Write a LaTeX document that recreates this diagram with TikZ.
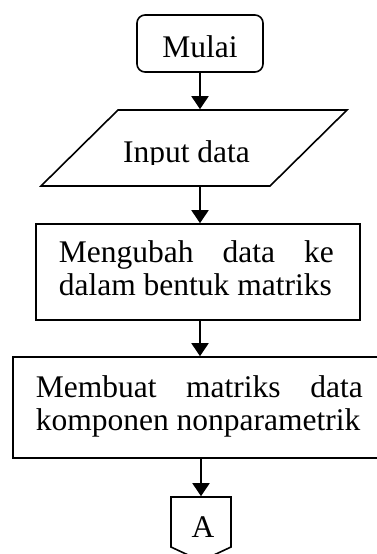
\documentclass[tikz,border=0pt]{standalone}
\usepackage{fontspec}
\setmainfont{Liberation Serif}
\usetikzlibrary{arrows.meta}
\begin{document}
\begin{tikzpicture}[x=1pt,y=-1pt,line width=1.6pt,
  shapebox/.style={draw,rectangle,inner sep=0pt},
  ghost/.style={rectangle,inner sep=0pt},
  txt/.style={font=\fontsize{31.5}{33}\selectfont,inner sep=0pt,anchor=base},
  arr/.style={-{Triangle[width=17pt,length=13pt]},line width=1.8pt}]
\useasboundingbox (0,0) rectangle (377,554);
\clip (0,0) rectangle (377,554);
% start
\node[shapebox,rounded corners=8pt,minimum width=126pt,minimum height=57pt] (start) at (200,43.5) {};
\node[txt] (tstart) at (200,57) {Mulai};
% input parallelogram
\draw (118,110) -- (347,110) -- (270,186) -- (41,186) -- cycle;
\node[ghost,minimum width=229pt,minimum height=76pt] (inp) at (200,148) {};
\begin{scope}
\clip (100,120) rectangle (280,164.5);
\node[txt] (tinp) at (186.5,162.5) {Input data};
\end{scope}
% box 2
\node[shapebox,minimum width=324pt,minimum height=96pt] (conv) at (198,272) {};
\node[txt,anchor=base west] (tconva) at (58,262) {\makebox[275pt][s]{Mengubah data ke}};
\node[txt,anchor=base west] (tconvb) at (58,295) {dalam bentuk matriks};
% box 3
\node[shapebox,minimum width=378pt,minimum height=101pt] (mat) at (202,407.5) {};
\node[txt,anchor=base west] (tmata) at (35,397) {\makebox[327pt][s]{Membuat matriks data}};
\node[txt,anchor=base west] (tmatb) at (35,430) {komponen nonparametrik};
% off-page connector
\draw (171,497) -- (231,497) -- (231,547) -- (201,561) -- (171,547) -- cycle;
\node[ghost,minimum width=60pt,minimum height=50pt] (conn) at (201,522) {};
\node[txt] (tconn) at (203,537) {A};
% arrows
\draw[arr] (start.south) -- (start.south |- inp.north);
\draw[arr] (start.south |- inp.south) -- (start.south |- conv.north);
\draw[arr] (start.south |- conv.south) -- (start.south |- mat.north);
\draw[arr] (conn.north |- mat.south) -- (conn.north);
\end{tikzpicture}
\end{document}
